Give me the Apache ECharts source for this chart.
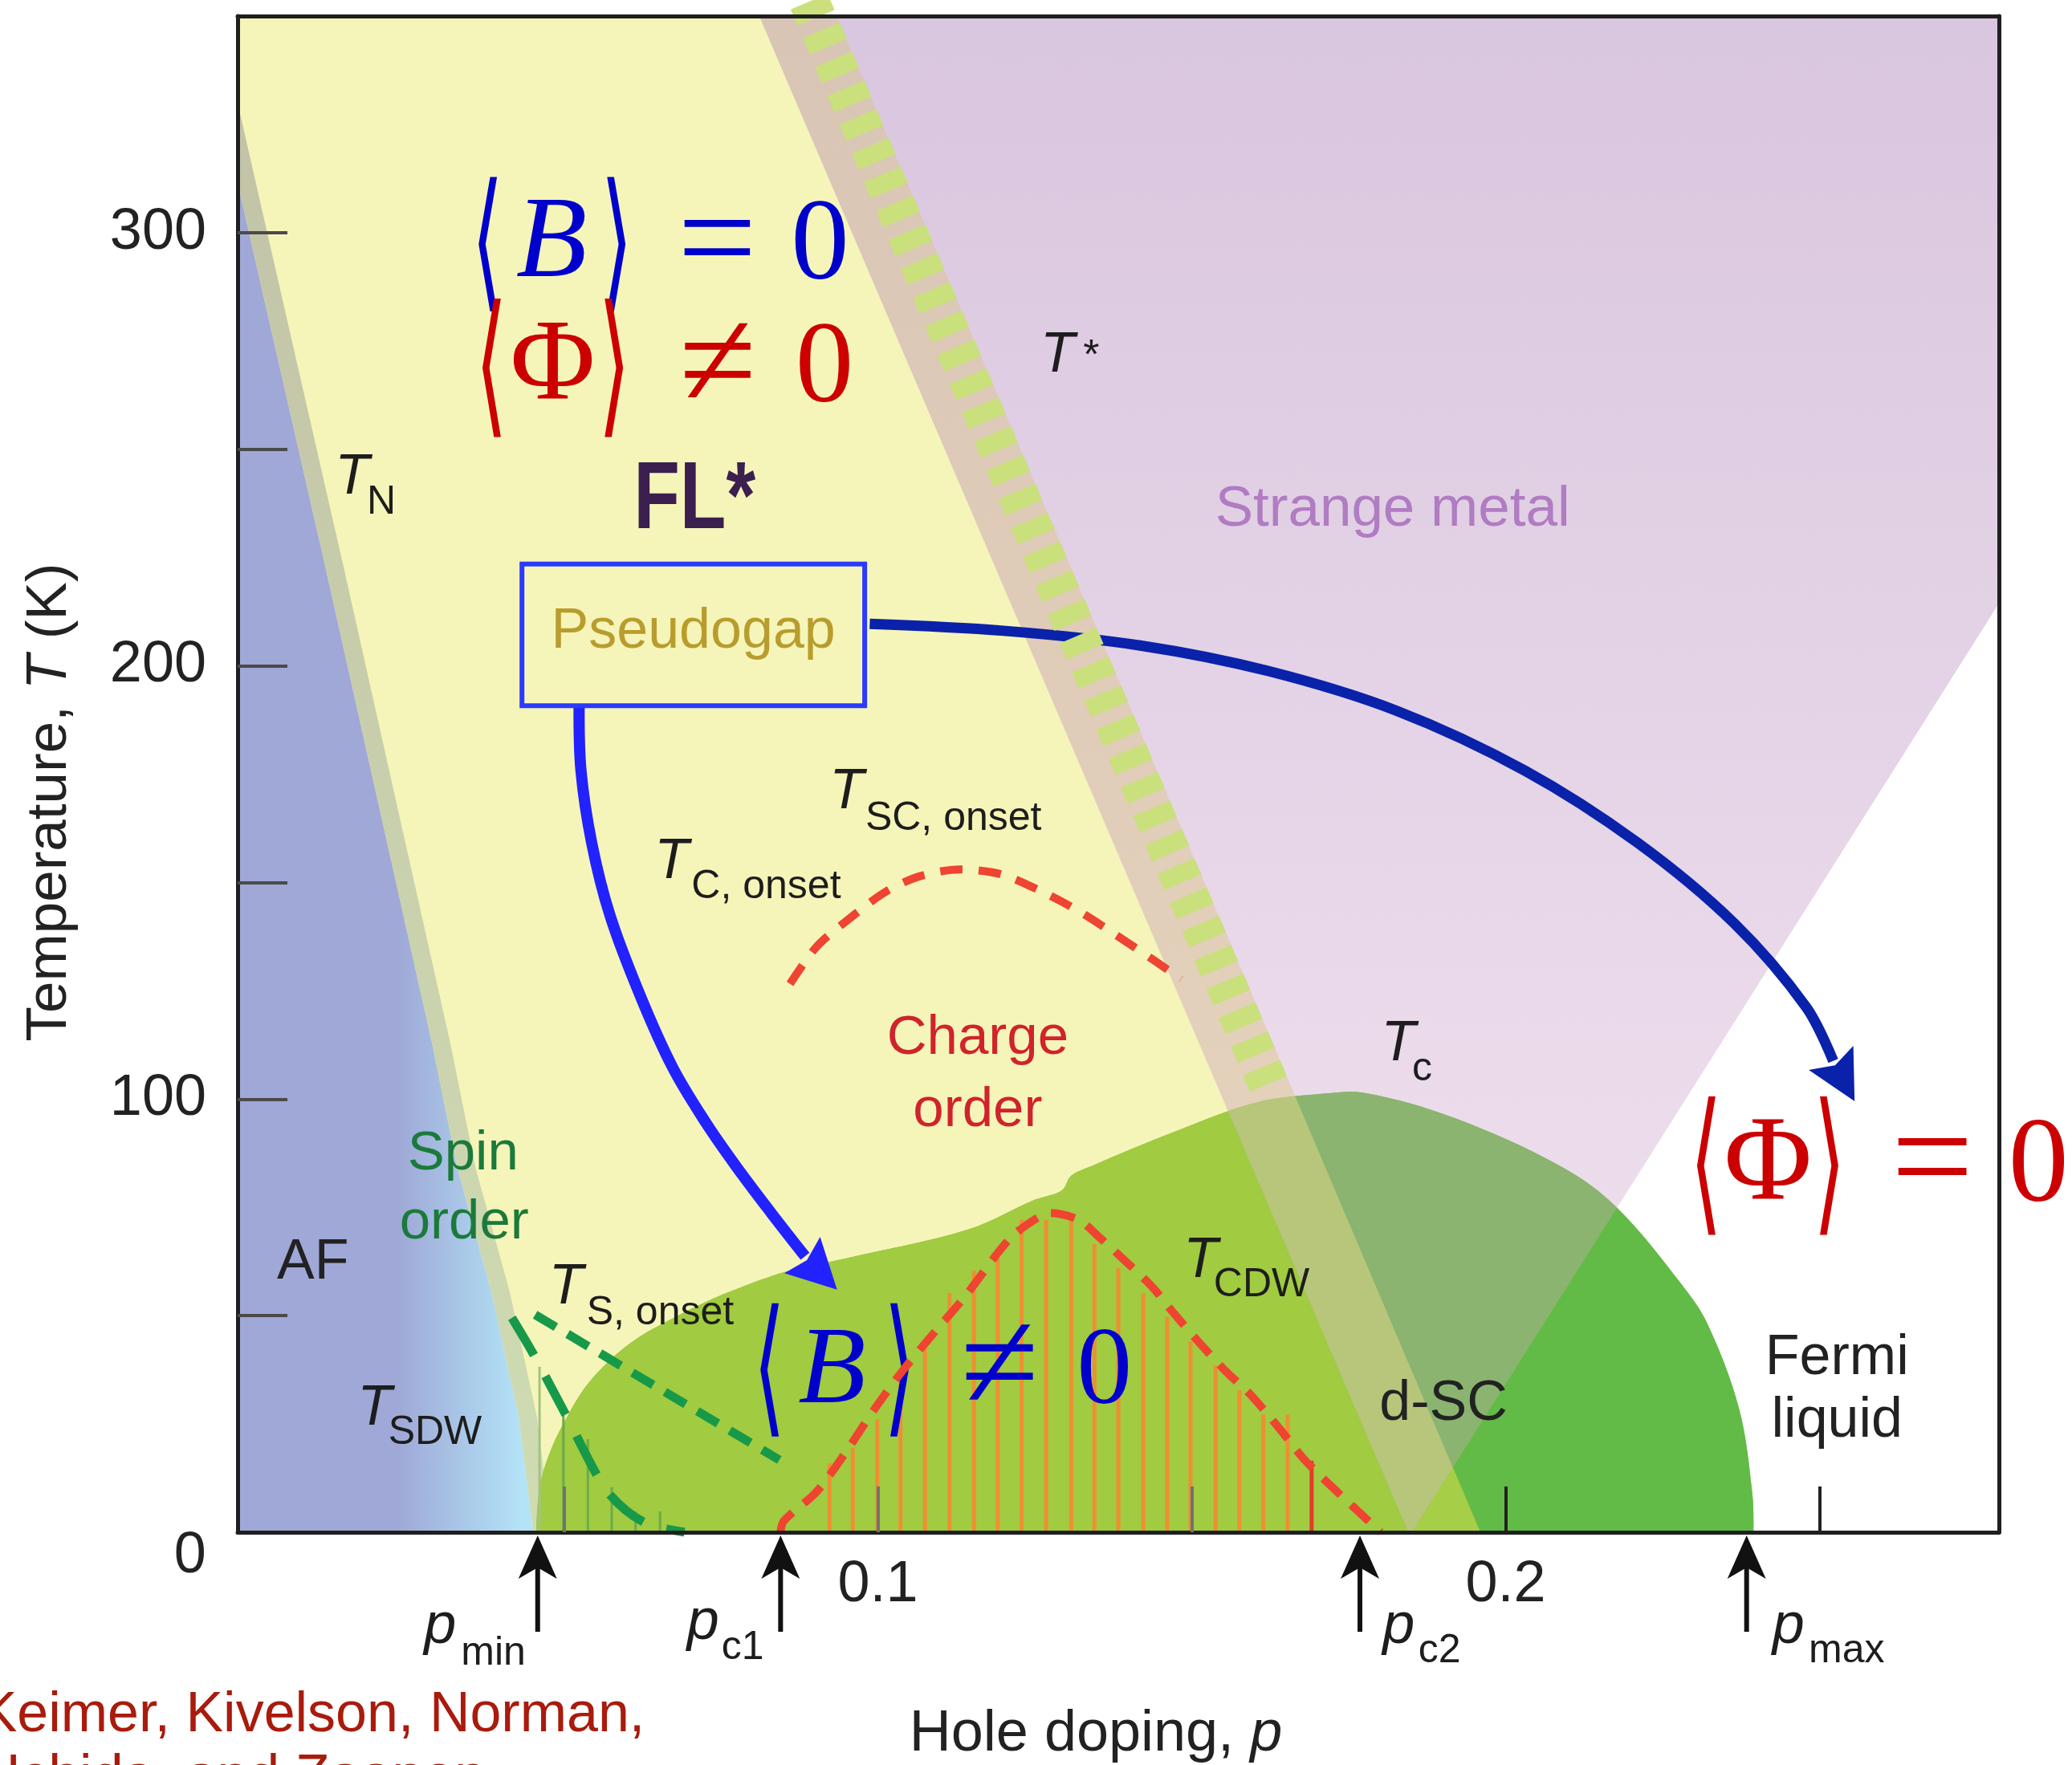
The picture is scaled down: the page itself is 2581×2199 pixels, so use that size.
<!DOCTYPE html>
<html>
<head>
<meta charset="utf-8">
<title>Cuprate phase diagram</title>
<script src="https://cdn.jsdelivr.net/npm/echarts@6/dist/echarts.min.js"></script>
<style>
  html, body { margin: 0; padding: 0; background: #ffffff; }
  #chart { width: 2581px; height: 2199px; }
</style>
</head>
<body>
<div id="chart"></div>
<script>
// ---------- axis ranges and ticks ----------
const pLo = -0.002, pHi = 0.2786;       // hole doping p
const tLo = 0, tHi = 350;               // temperature T (K)
const xTicksShaded = [0.05, 0.1, 0.15];
const xTicksPlain = [0.2, 0.25];
const xLabelValues = [0.1, 0.2];
const yTickValues = [50, 100, 150, 200, 250, 300];
const yLabelValues = [100, 200, 300];

// ---------- phase boundaries [p, T] ----------
const afBoundary = [[-0.002, 311.5], [0.0118, 224.0], [0.0290, 112.8], [0.0330, 84.1],
  [0.0385, 55.2], [0.0428, 26.5], [0.0451, 0]];
const tnBandOuter = [[-0.002, 330.0], [0.0009, 311.5], [0.0147, 224.0], [0.0319, 112.8],
  [0.0359, 84.1], [0.0414, 55.2], [0.0457, 26.5], [0.0480, 0]];
const tStarLeft = [[0.0811, 350], [0.1845, 0]];
const tStarRight = [[0.0934, 350], [0.1960, 0]];
const strangeMetalEdge = [[0.2786, 214.4], [0.1851, 0]];
const tStarDashes = [[0.0871, 360], [0.1623, 103.2]];
const tcDome = [[0.0456, 0], [0.0462, 10.9], [0.0480, 19.3], [0.0506, 26.9], [0.0535, 33.7],
  [0.0573, 39.7], [0.0616, 44.7], [0.0667, 48.9], [0.0718, 52.6], [0.0769, 55.8],
  [0.0855, 60.2], [0.0948, 63.2], [0.1144, 69.9], [0.1249, 76.7], [0.1293, 78.9],
  [0.1308, 82.3], [0.1340, 84.5], [0.1470, 92.3], [0.1600, 99.1], [0.1707, 101.2],
  [0.1776, 101.4], [0.1919, 95.6], [0.2090, 84.3], [0.2177, 75.0], [0.2280, 57.3],
  [0.2322, 48.0], [0.2372, 28.5], [0.2393, 9.1], [0.2395, 0]];
const tCdw = [[0.0845, 0], [0.0850, 2.6], [0.0902, 9.3], [0.0948, 18.3], [0.0994, 28.3],
  [0.1039, 37.2], [0.1091, 46.3], [0.1137, 54.1], [0.1209, 67.6], [0.1249, 72.1],
  [0.1274, 73.7], [0.1320, 72.1], [0.1352, 68.2], [0.1398, 62.1], [0.1438, 56.5],
  [0.1470, 50.8], [0.1510, 44.1], [0.1554, 37.2], [0.1594, 31.7], [0.1640, 23.9],
  [0.1678, 17.0], [0.1724, 10.4], [0.1801, 0]];
const tScOnset = [[0.0860, 126.6], [0.0902, 135.1], [0.0955, 141.7], [0.1013, 147.9],
  [0.1066, 151.4], [0.1131, 153.0], [0.1196, 151.9], [0.1261, 147.9], [0.1320, 143.4],
  [0.1379, 137.9], [0.1437, 132.3], [0.1483, 127.7]];
const tSOnset = [[0.0454, 50.2], [0.0843, 16.7]];
const tSdw = [[0.0417, 49.5], [0.0452, 40.9], [0.0501, 27.6], [0.0563, 10.6],
  [0.0599, 5.0], [0.0637, 1.7], [0.0692, 0]];

// hatching under the charge-order and spin-order domes
const cdwHatchP = [0.0923, 0.0960, 0.0999, 0.1036, 0.1075, 0.1114, 0.1153, 0.1191, 0.1229,
  0.1268, 0.1308, 0.1345, 0.1383, 0.1423, 0.1461, 0.1498, 0.1538, 0.1576, 0.1614, 0.1653, 0.1691];
const cdwHatchT = [15.9, 19.5, 26.1, 36.1, 44.1, 55.2, 60.4, 63.2, 72.1,
  72.1, 72.1, 66.5, 61.0, 55.2, 49.7, 44.1, 38.5, 32.8, 27.2, 27.2, 16.5];
const spinHatchP = [0.0461, 0.0499, 0.0538, 0.0576, 0.0614, 0.0653];
const spinHatchT = [38.2, 27.1, 21.5, 10.4, 4.8, 4.8];

// critical dopings marked under the axis: p_min, p_c1, p_c2, p_max
const criticalDopings = [0.0458, 0.0845, 0.1768, 0.2384];

// annotation arrows
const arrowToSC = [[0.0524, 190.8], [0.0527, 175.8], [0.0544, 159.2], [0.0573, 142.5],
  [0.0621, 124.0], [0.0673, 107.3], [0.0727, 94.3], [0.0776, 84.1], [0.0829, 73.9], [0.0884, 63.7]];
const arrowToSCHead = [[0.0935, 56.0], [0.0851, 59.8], [0.0887, 62.8], [0.0908, 68.2]];
const arrowToFL = [[0.0987, 209.7], [0.1200, 208.1], [0.1418, 204.7], [0.1622, 198.8],
  [0.1827, 189.6], [0.2031, 175.8], [0.2210, 159.2], [0.2364, 140.6], [0.2479, 121.2], [0.2522, 108.8]];
const arrowToFLHead = [[0.2556, 99.5], [0.2483, 106.7], [0.2525, 107.8], [0.2554, 112.3]];
const pseudogapBox = [[0.0433, 223.5], [0.0979, 190.8]];

// text labels [p, T, text, style]
const annotationTexts = [
  [0.0135, 243.4, 'T', 'tMain'], [0.0186, 237.7, 'N', 'tSub'],
  [0.1259, 271.5, 'T', 'tMain'], [0.1327, 271.3, '*', 'star'],
  [0.0708, 237.9, 'FL*', 'fl'],
  [0.1820, 235.9, 'Strange metal', 'strange'],
  [0.0706, 207.8, 'Pseudogap', 'pseudogap'],
  [0.0923, 170.8, 'T', 'tMain'], [0.0980, 164.7, 'SC, onset', 'tSub'],
  [0.0644, 154.7, 'T', 'tMain'], [0.0703, 149.0, 'C, onset', 'tSub'],
  [0.1159, 114.0, 'Charge', 'charge'], [0.1159, 97.3, 'order', 'charge'],
  [0.1802, 112.5, 'T', 'tMain'], [0.1851, 106.9, 'c', 'tSub'],
  [0.0339, 87.3, 'Spin', 'spin'], [0.0341, 71.3, 'order', 'spin'],
  [0.0100, 62.1, 'AF', 'region'],
  [0.1487, 62.6, 'T', 'tMain'], [0.1535, 57.0, 'CDW', 'tSub'],
  [0.0476, 56.5, 'T', 'tMain'], [0.0536, 50.6, 'S, onset', 'tSub'],
  [0.0171, 28.4, 'T', 'tMain'], [0.0220, 22.9, 'SDW', 'tSub'],
  [0.1901, 29.5, 'd-SC', 'region'],
  [0.2528, 40.0, 'Fermi', 'region'], [0.2528, 25.6, 'liquid', 'region'],
  [-0.0070, -5.6, '0', 'axisZero'],
  [0.0277, -21.9, 'p', 'pMain'], [0.0336, -28.1, 'min', 'pSub'],
  [0.0696, -21.0, 'p', 'pMain'], [0.0751, -26.8, 'c1', 'pSub'],
  [0.1804, -21.9, 'p', 'pMain'], [0.1861, -27.5, 'c2', 'pSub'],
  [0.2425, -21.9, 'p', 'pMain'], [0.2483, -27.5, 'max', 'pSub'],
  [-0.0431, -42.4, 'Keimer, Kivelson, Norman,', 'credit'],
  [-0.0431, -56.9, 'Uchida, and Zaanen', 'credit']
];

// order-parameter formulas, one glyph per entry [p, T, glyph, kind]
const eqPseudogapB = [[0.0378, 295.5, '⟨', 'br'], [0.0480, 297.0, 'B', 'it'],
  [0.0584, 295.5, '⟩', 'br'], [0.0744, 296.7, '=', 'op'], [0.0908, 296.4, '0', 'num']];
const eqPseudogapPhi = [[0.0384, 266.9, '⟨', 'br'], [0.0482, 268.7, 'Φ', 'num'],
  [0.0580, 266.9, '⟩', 'br'], [0.0745, 268.3, '≠', 'op'], [0.0915, 268.1, '0', 'num']];
const eqSuperconB = [[0.0827, 35.7, '⟨', 'br'], [0.0927, 36.8, 'B', 'it'],
  [0.1035, 35.7, '⟩', 'br'], [0.1194, 37.0, '≠', 'op'], [0.1361, 36.5, '0', 'num']];
const eqFermiPhi = [[0.2319, 82.7, '⟨', 'br'], [0.2418, 84.4, 'Φ', 'num'],
  [0.2516, 82.7, '⟩', 'br'], [0.2680, 84.3, '=', 'op'], [0.2849, 83.9, '0', 'num']];

// ---------- styles ----------
const SANS = '"Liberation Sans", Arial, Helvetica, sans-serif';
const SERIF = '"Liberation Serif", "Times New Roman", serif';
const BRACKET = '"DejaVu Sans", sans-serif';
const textStyles = {
  tMain: { font: 'italic 70px ' + SANS, fill: '#1d1d1d', align: 'left' },
  tSub: { font: '50px ' + SANS, fill: '#1d1d1d', align: 'left' },
  star: { font: '52px ' + SANS, fill: '#1d1d1d', align: 'left' },
  fl: { font: 'bold 118px ' + SANS, fill: '#3b1f4f', align: 'center', scaleX: 0.8 },
  strange: { font: '71px ' + SANS, fill: '#b07cc2', align: 'center' },
  pseudogap: { font: '70px ' + SANS, fill: '#b89d2e', align: 'center' },
  charge: { font: '69px ' + SANS, fill: '#d0232b', align: 'center' },
  spin: { font: '69px ' + SANS, fill: '#1b7a3b', align: 'center' },
  region: { font: '70px ' + SANS, fill: '#222222', align: 'center' },
  axisZero: { font: '72px ' + SANS, fill: '#222222', align: 'right' },
  pMain: { font: 'italic 72px ' + SANS, fill: '#1d1d1d', align: 'left' },
  pSub: { font: '50px ' + SANS, fill: '#1d1d1d', align: 'left' },
  credit: { font: '70px ' + SANS, fill: '#a91b0d', align: 'left' }
};
const formulas = [
  { glyphs: eqPseudogapB, color: '#0000cc', size: 145, brY: 2.09, op: 175 },
  { glyphs: eqPseudogapPhi, color: '#cc0000', size: 145, brY: 2.15, op: 175 },
  { glyphs: eqSuperconB, color: '#0000cc', size: 138, brY: 2.07, op: 178 },
  { glyphs: eqFermiPhi, color: '#cc0000', size: 150, brY: 2.15, op: 182 }
];

// ---------- geometry helpers ----------
function lineP(line, t) {
  const a = line[0], b = line[1];
  return a[0] + (b[0] - a[0]) * (t - a[1]) / (b[1] - a[1]);
}
// keep the part of a straight-edged region on one side (right = larger p) of a boundary line
function clipBy(poly, line, keepRight) {
  const f = pt => (keepRight ? 1 : -1) * (pt[0] - lineP(line, pt[1]));
  const out = [];
  for (let i = 0; i < poly.length; i++) {
    const a = poly[i], b = poly[(i + 1) % poly.length];
    const fa = f(a), fb = f(b);
    if (fa >= 0) out.push(a);
    if ((fa >= 0) !== (fb >= 0)) {
      const s = fa / (fa - fb);
      out.push([a[0] + s * (b[0] - a[0]), a[1] + s * (b[1] - a[1])]);
    }
  }
  return out;
}
function vGrad(api, tTop, tBottom, stops) {
  const a = api.coord([0, tTop]), b = api.coord([0, tBottom]);
  return new echarts.graphic.LinearGradient(0, a[1], 0, b[1], stops, true);
}
function hGrad(api, p0, p1, stops) {
  const a = api.coord([p0, 0]), b = api.coord([p1, 0]);
  return new echarts.graphic.LinearGradient(a[0], 0, b[0], 0, stops, true);
}

// ---------- background phase regions ----------
const purpleRegion = [tStarLeft[0], [pHi, tHi], strangeMetalEdge[0], strangeMetalEdge[1], tStarLeft[1]];
const yellowRegion = [[pLo, tHi], tStarLeft[0], tStarLeft[1], [pLo, 0]];
const tStarBand = [tStarLeft[0], tStarRight[0], tStarRight[1], tStarLeft[1]];
const rightOfBand = [tStarRight[0], [pHi, tHi], [pHi, 0], tStarRight[1]];
const afRegion = afBoundary.concat([[pLo, 0]]);
const tnBand = tnBandOuter.concat(afBoundary.slice().reverse());

const regionDefs = [
  { poly: purpleRegion, fill: api => vGrad(api, tHi, 0, [
      { offset: 0, color: '#d9c6df' }, { offset: 0.68, color: '#eadaea' }, { offset: 1, color: '#f0e2ef' }]) },
  { poly: yellowRegion, fill: () => '#f6f5b9' },
  { poly: tStarBand, fill: api => vGrad(api, tHi, 100, [
      { offset: 0, color: '#d9c5b5' }, { offset: 1, color: '#e4d1bb' }]) },
  { poly: afRegion, fill: api => hGrad(api, 0.0234, 0.0433, [
      { offset: 0, color: '#9fa8d6' }, { offset: 1, color: '#b3e3f7' }]) },
  { poly: tnBand, fill: api => vGrad(api, 330, 0, [
      { offset: 0, color: '#c2c3a7' }, { offset: 1, color: '#cfdcb2' }]) }
];

// the d-SC dome takes a different tint in each region it overlaps
const domeTints = [
  { region: yellowRegion, fill: '#a1cb40' },
  { region: clipBy(tStarBand, strangeMetalEdge, false), fill: '#b7c67b' },
  { region: clipBy(tStarBand, strangeMetalEdge, true), fill: '#a7ce47' },
  { region: clipBy(rightOfBand, strangeMetalEdge, false), fill: '#8ab46f' },
  { region: clipBy(rightOfBand, strangeMetalEdge, true), fill: '#62bb46' }
].filter(d => d.region.length > 2);

// ---------- series ----------
function dashed(name, data, color, width, dash, smooth) {
  return {
    type: 'line', name, data, smooth, silent: true, symbol: 'none', showSymbol: false,
    lineStyle: { color, width, type: dash, cap: 'butt' }
  };
}
function hatchSeries(name, ps, ts, colorFn, width) {
  return {
    type: 'custom', name, silent: true,
    data: ps.map((p, i) => [p, ts[i]]),
    renderItem: (params, api) => {
      const i = params.dataIndex;
      const a = api.coord([ps[i], 0]), b = api.coord([ps[i], ts[i]]);
      return { type: 'line', shape: { x1: a[0], y1: a[1], x2: b[0], y2: b[1] },
        style: { stroke: colorFn(i), lineWidth: width } };
    }
  };
}
// curved arrow: smooth shaft through the path points plus a notched head
function curvedArrow(name, path, head, color, width) {
  return {
    type: 'custom', name, silent: true, data: [path[0]],
    renderItem: (params, api) => ({
      type: 'group', children: [
        { type: 'polyline', shape: { points: path.map(pt => api.coord(pt)), smooth: 0.35 },
          style: { stroke: color, lineWidth: width, fill: null, lineCap: 'butt', lineJoin: 'round' } },
        { type: 'polygon', shape: { points: head.map(pt => api.coord(pt)) }, style: { fill: color } }
      ]
    })
  };
}

const textItems = [];
annotationTexts.forEach(t => textItems.push({ p: t[0], T: t[1], text: t[2], style: textStyles[t[3]] }));
formulas.forEach(f => f.glyphs.forEach(g => {
  let style;
  if (g[3] === 'br') style = { font: '90px ' + BRACKET, scaleX: 1.15, scaleY: f.brY };
  else if (g[3] === 'it') style = { font: 'italic ' + f.size + 'px ' + SERIF };
  else if (g[3] === 'op') style = { font: f.op + 'px ' + SERIF };
  else style = { font: f.size + 'px ' + SERIF };
  style.fill = f.color;
  style.align = 'center';
  textItems.push({ p: g[0], T: g[1], text: g[2], style });
}));

const axisFont = { fontFamily: SANS, fontSize: 72, color: '#222222' };

const option = {
  animation: false,
  backgroundColor: '#ffffff',
  grid: { left: 296, right: 91, top: 20, bottom: 290, containLabel: false, outerBoundsMode: 'none' },
  xAxis: [
    {
      type: 'value', min: pLo, max: pHi, position: 'bottom', z: 10,
      axisLine: { show: true, onZero: false, lineStyle: { color: '#1f1f1f', width: 5 } },
      axisTick: { show: true, inside: true, length: 57, customValues: xTicksPlain,
        lineStyle: { color: '#222222', width: 4 } },
      axisLabel: { show: true, customValues: xLabelValues, margin: 30, formatter: v => String(v), ...axisFont },
      splitLine: { show: false },
      name: '{a|Hole doping, }{b|p}', nameLocation: 'middle', nameGap: 216,
      nameTextStyle: { padding: [0, 56, 0, 0], rich: {
        a: { fontFamily: SANS, fontSize: 72, color: '#222222' },
        b: { fontFamily: SANS, fontSize: 72, fontStyle: 'italic', color: '#222222' } } }
    },
    {
      type: 'value', min: pLo, max: pHi, position: 'bottom', z: 10,
      axisLine: { show: false, onZero: false },
      axisTick: { show: true, inside: true, length: 57, customValues: xTicksShaded,
        lineStyle: { color: '#727272', width: 4 } },
      axisLabel: { show: false }, splitLine: { show: false }
    },
    {
      type: 'value', min: pLo, max: pHi, position: 'top', z: 10,
      axisLine: { show: true, onZero: false, lineStyle: { color: '#1f1f1f', width: 5 } },
      axisTick: { show: false }, axisLabel: { show: false }, splitLine: { show: false }
    }
  ],
  yAxis: [
    {
      type: 'value', min: tLo, max: tHi, position: 'left', z: 10,
      axisLine: { show: true, onZero: false, lineStyle: { color: '#1f1f1f', width: 5 } },
      axisTick: { show: true, inside: true, length: 62, customValues: yTickValues,
        lineStyle: { color: '#4a4a4a', width: 4 } },
      axisLabel: { show: true, customValues: yLabelValues, margin: 39, ...axisFont },
      splitLine: { show: false },
      name: '{a|Temperature, }{b|T}{a| (K)}', nameLocation: 'middle', nameGap: 198,
      nameTextStyle: { padding: [0, 70, 0, 0], rich: {
        a: { fontFamily: SANS, fontSize: 71, color: '#222222' },
        b: { fontFamily: SANS, fontSize: 71, fontStyle: 'italic', color: '#222222' } } }
    },
    {
      type: 'value', min: tLo, max: tHi, position: 'right', z: 10,
      axisLine: { show: true, onZero: false, lineStyle: { color: '#1f1f1f', width: 5 } },
      axisTick: { show: false }, axisLabel: { show: false }, splitLine: { show: false }
    }
  ],
  series: [
    {
      type: 'custom', name: 'regions', silent: true,
      data: regionDefs.map(d => d.poly[0]),
      renderItem: (params, api) => {
        const d = regionDefs[params.dataIndex];
        return { type: 'polygon', shape: { points: d.poly.map(pt => api.coord(pt)) },
          style: { fill: d.fill(api) } };
      }
    },
    dashed('T* line', tStarDashes, '#c9e07c', 50, [22, 17], false),
    {
      // d-SC dome: one smooth outline, tinted region by region
      type: 'custom', name: 'd-SC dome', silent: true, data: [tcDome[0]],
      renderItem: (params, api) => {
        const first = tcDome[0], last = tcDome[tcDome.length - 1];
        // outline continued below the axis so the flanks stay steep; the part under T = 0 is clipped away
        const outline = tcDome.concat([[last[0], -25], [first[0], -25]]).map(pt => api.coord(pt));
        const plot = [[pLo, tHi], [pHi, tHi], [pHi, 0], [pLo, 0]].map(pt => api.coord(pt));
        const children = [{
          type: 'polygon', shape: { points: outline, smooth: 0.35 }, style: { fill: '#90bd58' },
          clipPath: { type: 'polygon', shape: { points: plot } }
        }];
        domeTints.forEach(d => children.push({
          type: 'polygon', shape: { points: outline, smooth: 0.35 }, style: { fill: d.fill },
          clipPath: { type: 'polygon', shape: { points: d.region.map(pt => api.coord(pt)) } }
        }));
        return { type: 'group', children };
      }
    },
    hatchSeries('charge hatching', cdwHatchP, cdwHatchT,
      i => (i === cdwHatchP.length - 1 ? '#e63a2a' : '#ee8f33'), 5),
    hatchSeries('spin hatching', spinHatchP, spinHatchT,
      i => (i === 0 ? '#a3c381' : '#6aab4c'), 3),
    dashed('T_CDW', tCdw, '#ee4431', 10, [30, 18], 0.3),
    dashed('T_SC onset', tScOnset, '#ee4431', 10, [28, 20], 0.3),
    dashed('T_S onset', tSOnset, '#17994a', 11, [30, 17], false),
    dashed('T_SDW', tSdw, '#17994a', 11, [54, 30], 0.3),
    curvedArrow('arrow to SC', arrowToSC, arrowToSCHead, '#2222ff', 14),
    curvedArrow('arrow to FL', arrowToFL, arrowToFLHead, '#0a22aa', 13),
    {
      type: 'custom', name: 'pseudogap box', silent: true, data: [pseudogapBox[0]],
      renderItem: (params, api) => {
        const a = api.coord(pseudogapBox[0]), b = api.coord(pseudogapBox[1]);
        return { type: 'rect', shape: { x: a[0], y: a[1], width: b[0] - a[0], height: b[1] - a[1] },
          style: { fill: null, stroke: '#2b3bff', lineWidth: 6 } };
      }
    },
    {
      type: 'custom', name: 'critical dopings', silent: true, clip: false,
      data: criticalDopings.map(p => [p, 0]),
      renderItem: (params, api) => {
        const c = api.coord([criticalDopings[params.dataIndex], 0]);
        const x = c[0], y = c[1];
        return { type: 'group', children: [
          { type: 'rect', shape: { x: x - 3, y: y + 40, width: 6, height: 84 }, style: { fill: '#111111' } },
          { type: 'polygon', shape: { points: [[x, y + 4], [x - 24, y + 58], [x, y + 44], [x + 24, y + 58]] },
            style: { fill: '#111111' } }
        ] };
      }
    },
    {
      type: 'custom', name: 'labels', silent: true, clip: false,
      data: textItems.map(t => [t.p, t.T]),
      renderItem: (params, api) => {
        const t = textItems[params.dataIndex];
        const c = api.coord([t.p, t.T]);
        const el = { type: 'text', x: c[0], y: c[1],
          style: { text: t.text, font: t.style.font, fill: t.style.fill,
            align: t.style.align, verticalAlign: 'middle' } };
        if (t.style.scaleX) el.scaleX = t.style.scaleX;
        if (t.style.scaleY) el.scaleY = t.style.scaleY;
        return el;
      }
    }
  ]
};

const chart = echarts.init(document.getElementById('chart'), null, { renderer: 'canvas', width: 2581, height: 2199 });
chart.setOption(option);
</script>
</body>
</html>
